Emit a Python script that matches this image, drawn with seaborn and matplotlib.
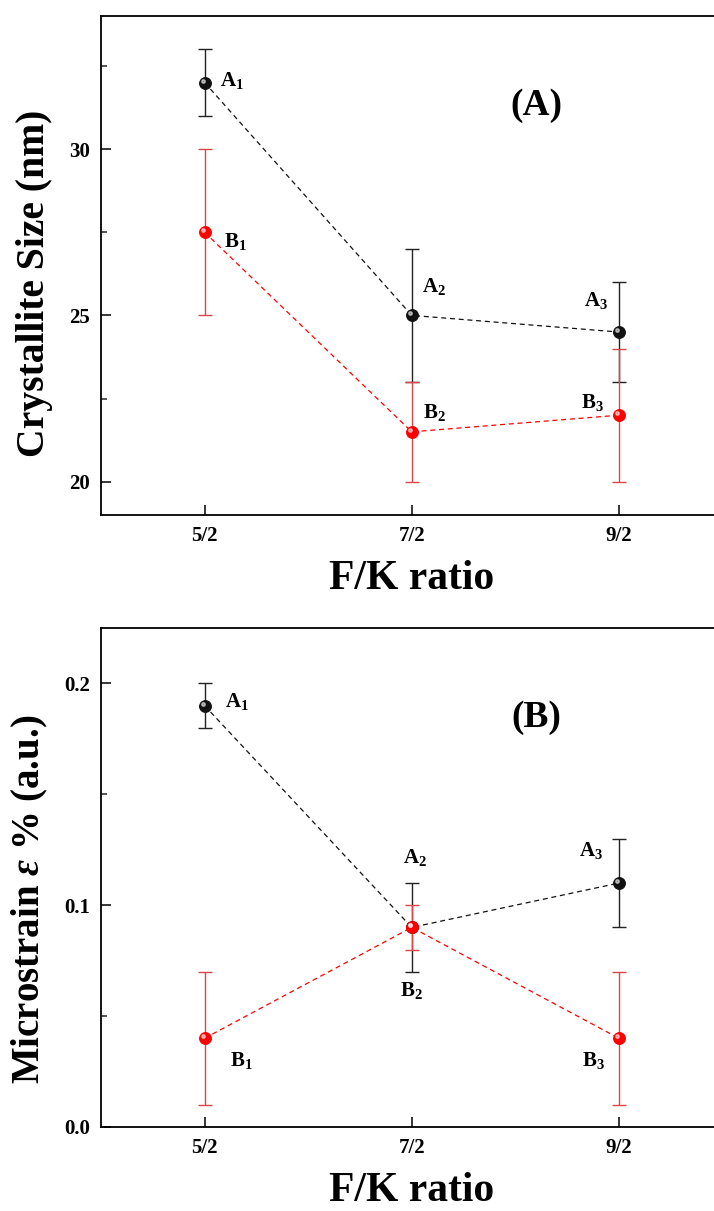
import pandas as pd
import matplotlib
matplotlib.use('Agg')
import matplotlib.pyplot as plt
import matplotlib.transforms as mtransforms
from matplotlib.ticker import MultipleLocator
import seaborn as sns

# data
ratios = ['5/2', '7/2', '9/2']

size_A = [32.0, 25.0, 24.5]
size_A_err = [1.0, 2.0, 1.5]
size_B = [27.5, 21.5, 22.0]
size_B_err = [2.5, 1.5, 2.0]

strain_A = [0.19, 0.09, 0.11]
strain_A_err = [0.01, 0.02, 0.02]
strain_B = [0.04, 0.09, 0.04]
strain_B_err = [0.03, 0.01, 0.03]

# label offsets in pixels (dx, dy) for each point label
size_A_off = [(27, 2), (22, 29), (-23, 32)]
size_B_off = [(31, -9), (23, 19), (-26, 13)]
strain_A_off = [(32, 4), (3, 70), (-28, 33)]
strain_B_off = [(37, -22), (0, -63), (-25, -22)]

sns.set_theme(style='ticks')
plt.rcParams['font.family'] = ['Liberation Serif', 'DejaVu Serif']
plt.rcParams['font.weight'] = 'bold'
plt.rcParams['text.color'] = 'black'
plt.rcParams['axes.labelcolor'] = 'black'
plt.rcParams['mathtext.fontset'] = 'custom'
plt.rcParams['mathtext.rm'] = 'Liberation Serif:bold'
plt.rcParams['mathtext.bf'] = 'Liberation Serif:bold'
plt.rcParams['mathtext.it'] = 'Liberation Serif:italic'

fig = plt.figure(figsize=(7.14, 12.11), dpi=100)
ax1 = fig.add_axes([101 / 714, 1 - 515 / 1211, 621.5 / 714, 499 / 1211])
ax2 = fig.add_axes([101 / 714, 1 - 1127 / 1211, 621.5 / 714, 499 / 1211])

series_colors = {'A': ('#111111', '#222222'), 'B': ('#ff0000', '#d84848')}


def draw_series(ax, name, vals, errs, offsets):
    color, ecolor = series_colors[name]
    df = pd.DataFrame({'ratio': ratios, 'val': vals})
    ax.errorbar(df['ratio'], df['val'], yerr=errs, fmt='none', ecolor=ecolor,
                elinewidth=1.0, capsize=5, capthick=1.0, zorder=2)
    sns.lineplot(data=df, x='ratio', y='val', ax=ax, color=color, linewidth=0.9,
                 linestyle=(0, (4, 3)), marker='o', markersize=8.5,
                 markeredgecolor=color, markerfacecolor=color, sort=False, zorder=3)
    # small highlight to mimic the shaded balls
    hl = mtransforms.offset_copy(ax.transData, fig=fig, x=-2, y=2, units='dots')
    ax.plot(df['ratio'], df['val'], linestyle='none', marker='o', markersize=2.5,
            color='white', alpha=0.55, transform=hl, zorder=4)
    for i, (x, y) in enumerate(zip(df['ratio'], df['val'])):
        dx, dy = offsets[i]
        ax.annotate(r'$\mathbf{%s}_\mathbf{%d}$' % (name, i + 1), (x, y),
                    xytext=(dx, dy), textcoords='offset pixels',
                    ha='center', va='center', fontsize=15, color='black')


draw_series(ax1, 'A', size_A, size_A_err, size_A_off)
draw_series(ax1, 'B', size_B, size_B_err, size_B_off)
draw_series(ax2, 'A', strain_A, strain_A_err, strain_A_off)
draw_series(ax2, 'B', strain_B, strain_B_err, strain_B_off)

ax1.set_ylim(19, 34)
ax1.yaxis.set_major_locator(MultipleLocator(5))
ax1.yaxis.set_minor_locator(MultipleLocator(2.5))
ax2.set_ylim(0, 0.225)
ax2.yaxis.set_major_locator(MultipleLocator(0.1))
ax2.yaxis.set_minor_locator(MultipleLocator(0.05))

for ax, panel in [(ax1, '(A)'), (ax2, '(B)')]:
    ax.set_xlim(-0.5, 2.5)
    for sp in ax.spines.values():
        sp.set_visible(True)
        sp.set_linewidth(1.3)
        sp.set_color('black')
    ax.tick_params(axis='both', which='major', direction='in', length=7, width=1.1,
                   labelsize=15, pad=8, colors='black')
    ax.tick_params(axis='y', which='minor', direction='in', length=4, width=1.1)
    ax.tick_params(axis='x', which='minor', bottom=False)
    ax.tick_params(top=False, right=False)
    ax.set_xlabel('F/K ratio', fontsize=30, fontweight='bold', labelpad=10)
    ax.text(0.70, 0.82, panel, transform=ax.transAxes, fontsize=27,
            fontweight='bold', ha='center', va='center')
    ax.grid(False)

ax1.set_ylabel('Crystallite Size (nm)', fontsize=28.5, fontweight='bold')
ax2.set_ylabel(r'Microstrain $\varepsilon$ % (a.u.)', fontsize=28,
               fontweight='bold')
ax1.yaxis.set_label_coords(-0.077, 0.465)
ax2.yaxis.set_label_coords(-0.082, 0.457)

fig.savefig('out.png', dpi=100)
